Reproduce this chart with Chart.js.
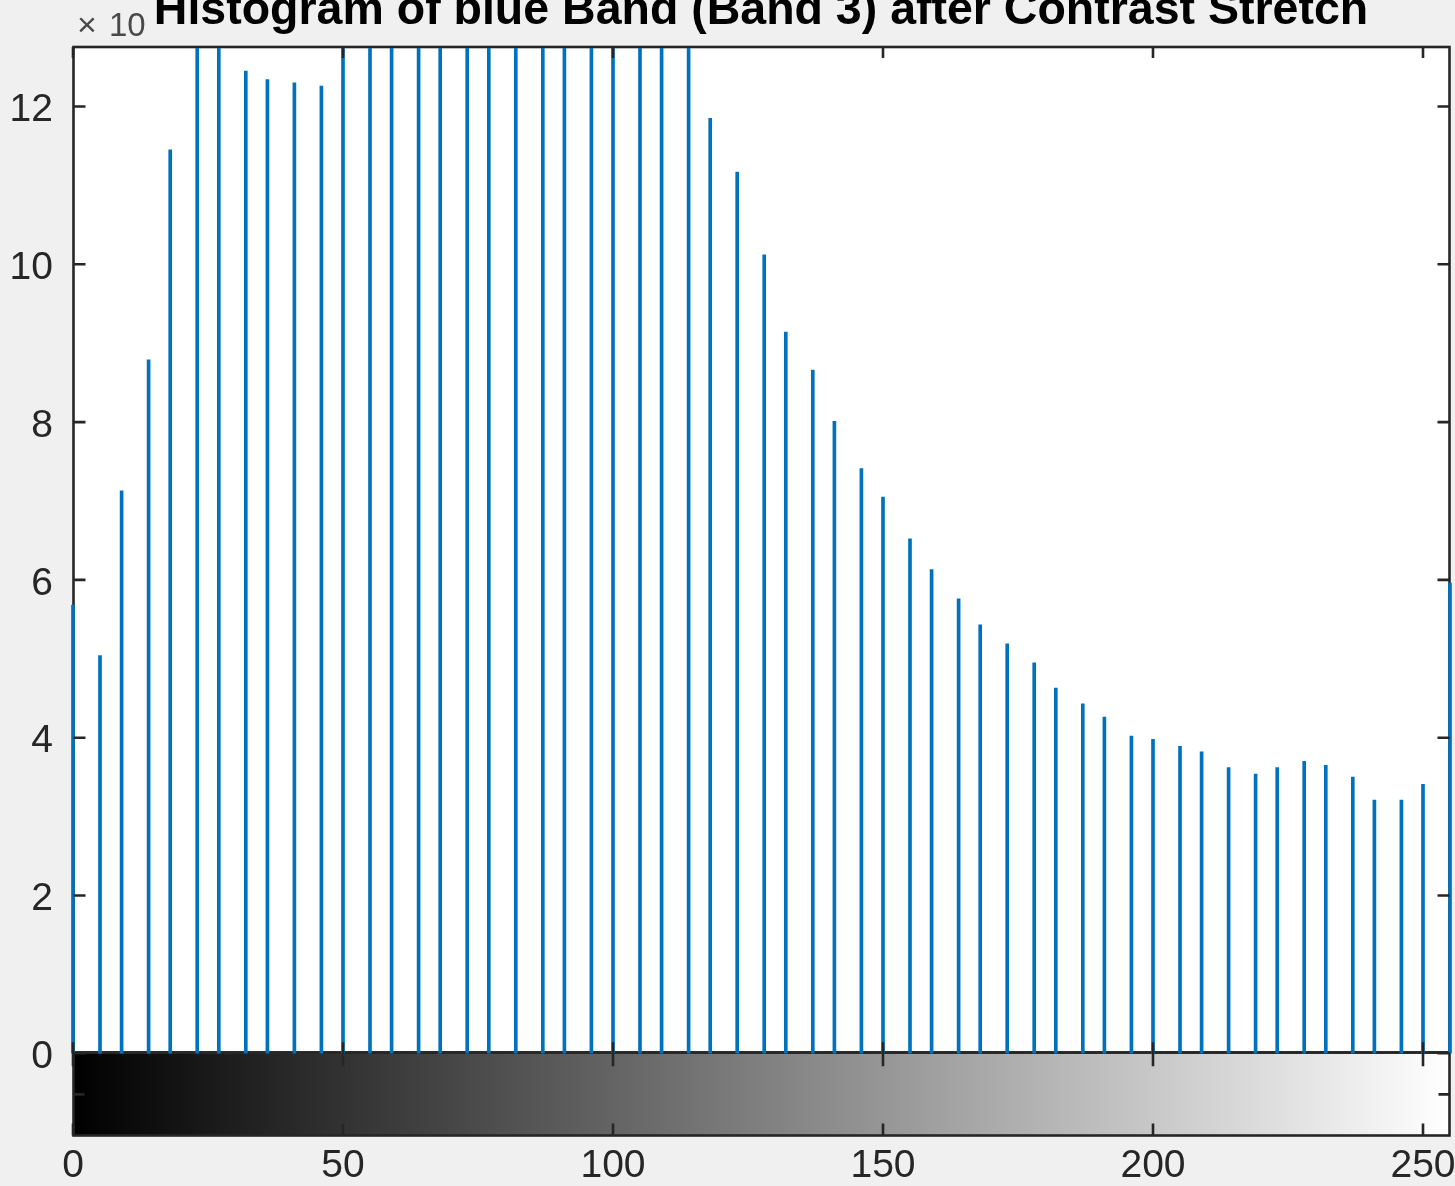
<!DOCTYPE html>
<html>
<head>
<meta charset="utf-8">
<script src="https://cdn.jsdelivr.net/npm/chart.js@4.4.1/dist/chart.umd.min.js"></script>
<style>
  html, body { margin: 0; padding: 0; background: #f0f0f0; overflow: hidden; }
  canvas { display: block; }
</style>
</head>
<body>
<canvas id="hist" width="1455" height="1186"></canvas>
<script>
// Histogram of the stretched blue band: occupied grey levels and their pixel counts
const titleText = 'Histogram of blue Band (Band 3) after Contrast Stretch';
const exponentBase = '10';

const intensityLevels = [
  0, 5, 9, 14, 18, 23, 27, 32, 36, 41,
  46, 50, 55, 59, 64, 68, 73, 77, 82, 87,
  91, 96, 100, 105, 109, 114, 118, 123, 128, 132,
  137, 141, 146, 150, 155, 159, 164, 168, 173, 178,
  182, 187, 191, 196, 200, 205, 209, 214, 219, 223,
  228, 232, 237, 241, 246, 250, 255
];

const pixelCounts = [
  56800, 50400, 71300, 87900, 114500, 132000, 136000, 124500, 123400, 123000,
  122600, 129000, 134000, 138000, 141000, 143000, 145000, 146000, 146000, 145000,
  144000, 142000, 140000, 137000, 134000, 130000, 118500, 111700, 101200, 91400,
  86600, 80100, 74100, 70500, 65200, 61300, 57600, 54300, 51900, 49500,
  46300, 44300, 42600, 40200, 39800, 38900, 38200, 36200, 35400, 36200,
  37000, 36500, 35000, 32100, 32100, 34100, 59600
];

const xTickValues = [0, 50, 100, 150, 200, 250];
const yTickValues = [0, 20000, 40000, 60000, 80000, 100000, 120000];
const yTickLabels = ['0', '2', '4', '6', '8', '10', '12'];

const X_MIN = 0, X_MAX = 255;
const Y_MAX = 127540;      // top of the histogram axes
const Y_MIN = -10420;      // bottom of the grey-level colour bar strip

const AXIS_COLOR = '#262626';
const STEM_COLOR = '#0072BD';
const FONT = '"Liberation Sans", Arial, Helvetica, sans-serif';

// Backgrounds, colour bar and axes boxes / tick marks
const framePlugin = {
  id: 'matlabFrame',
  beforeDraw(chart) {
    const { ctx, width, height } = chart;
    ctx.save();
    ctx.fillStyle = '#f0f0f0';
    ctx.fillRect(0, 0, width, height);
    ctx.restore();
  },
  beforeDatasetsDraw(chart) {
    const { ctx, chartArea: a, scales: { x, y } } = chart;
    const y0 = y.getPixelForValue(0);
    ctx.save();
    // white plotting area
    ctx.fillStyle = '#ffffff';
    ctx.fillRect(a.left, a.top, a.right - a.left, y0 - a.top);
    // grey ramp
    ctx.beginPath();
    ctx.rect(a.left, y0, a.right - a.left, a.bottom - y0);
    ctx.clip();
    for (let v = 0; v <= 255; v++) {
      const x1 = x.getPixelForValue(v - 0.5);
      const x2 = x.getPixelForValue(v + 0.5);
      ctx.fillStyle = `rgb(${v},${v},${v})`;
      ctx.fillRect(Math.floor(x1), y0, Math.ceil(x2) - Math.floor(x1) + 1, a.bottom - y0);
    }
    ctx.restore();

    // axes boxes
    ctx.save();
    ctx.strokeStyle = AXIS_COLOR;
    ctx.lineWidth = 2.6;
    const L = a.left + 0.5, R = a.right - 0.5;
    ctx.strokeRect(L, a.top, R - L, y0 - 0.8 - a.top);
    ctx.strokeRect(L, y0 - 0.8, R - L, a.bottom - (y0 - 0.8));
    ctx.restore();
  },
  afterDatasetsDraw(chart) {
    const { ctx, chartArea: a, scales: { x, y } } = chart;
    const y0 = y.getPixelForValue(0);
    const L = a.left + 0.5, R = a.right - 0.5;
    ctx.save();
    ctx.strokeStyle = AXIS_COLOR;
    ctx.lineWidth = 2.6;
    ctx.beginPath();
    xTickValues.forEach(v => {
      const px = x.getPixelForValue(v);
      // histogram axes: bottom and top
      ctx.moveTo(px, y0); ctx.lineTo(px, y0 - 11);
      ctx.moveTo(px, a.top); ctx.lineTo(px, a.top + 11);
      // colour bar: top and bottom
      ctx.moveTo(px, y0); ctx.lineTo(px, y0 + 13);
      ctx.moveTo(px, a.bottom); ctx.lineTo(px, a.bottom - 12);
    });
    yTickValues.forEach(v => {
      const py = y.getPixelForValue(v);
      ctx.moveTo(L, py); ctx.lineTo(L + 12, py);
      ctx.moveTo(R, py); ctx.lineTo(R - 12, py);
    });
    // colour bar middle tick
    const pm = y.getPixelForValue(Y_MIN / 2);
    ctx.moveTo(L, pm); ctx.lineTo(L + 11, pm);
    ctx.moveTo(R, pm); ctx.lineTo(R - 11, pm);
    ctx.stroke();
    ctx.restore();
  },
  afterDraw(chart) {
    const { ctx } = chart;
    ctx.save();
    // exponent of the count axis
    ctx.fillStyle = '#4a4a4a';
    ctx.textAlign = 'left';
    ctx.textBaseline = 'alphabetic';
    ctx.font = `34px ${FONT}`;
    ctx.fillText('\u00d7', 77, 36);
    ctx.font = `33px ${FONT}`;
    ctx.fillText(exponentBase, 109, 36);
    // title
    ctx.fillStyle = '#000000';
    ctx.font = `bold 46.5px ${FONT}`;
    ctx.textAlign = 'center';
    ctx.fillText(titleText, 761, 24);
    ctx.restore();
  }
};

const ctx = document.getElementById('hist').getContext('2d');
new Chart(ctx, {
  type: 'bar',
  data: {
    datasets: [{
      data: intensityLevels.map((lv, i) => ({ x: lv, y: pixelCounts[i] })),
      backgroundColor: STEM_COLOR,
      borderWidth: 0,
      barThickness: 3,
      clip: { left: 3, right: 3, top: -1, bottom: 0 }
    }]
  },
  options: {
    responsive: false,
    animation: false,
    devicePixelRatio: 1,
    layout: { padding: { top: 47, right: 5, left: 0, bottom: 0 } },
    plugins: {
      legend: { display: false },
      tooltip: { enabled: false },
      title: { display: false }
    },
    scales: {
      x: {
        type: 'linear',
        min: X_MIN,
        max: X_MAX,
        offset: false,
        grid: { display: false, drawTicks: false, offset: false },
        border: { display: false },
        afterBuildTicks: s => { s.ticks = xTickValues.map(v => ({ value: v })); },
        afterFit: s => { s.height = 50.5; s.paddingLeft = 0; s.paddingRight = 0; },
        ticks: {
          padding: 11,
          color: AXIS_COLOR,
          maxRotation: 0,
          autoSkip: false,
          font: { family: FONT, size: 39, lineHeight: 1 },
          callback: v => String(v)
        }
      },
      y: {
        type: 'linear',
        min: Y_MIN,
        max: Y_MAX,
        grid: { display: false, drawTicks: false },
        border: { display: false },
        afterBuildTicks: s => { s.ticks = yTickValues.map(v => ({ value: v })); },
        afterFit: s => { s.width = 73; s.paddingTop = 0; s.paddingBottom = 0; },
        ticks: {
          padding: 20,
          labelOffset: 4,
          color: AXIS_COLOR,
          autoSkip: false,
          font: { family: FONT, size: 39, lineHeight: 1 },
          callback: (v, i) => yTickLabels[i]
        }
      }
    }
  },
  plugins: [framePlugin]
});
</script>
</body>
</html>
